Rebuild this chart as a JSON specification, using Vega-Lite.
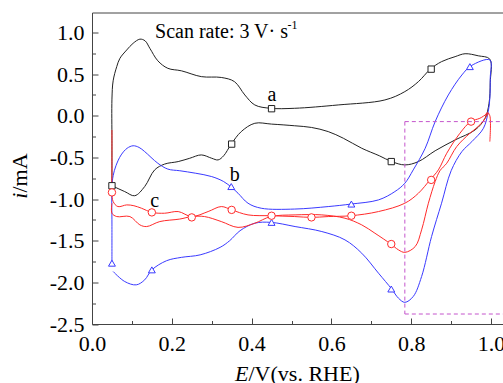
{
  "$schema": "https://vega.github.io/schema/vega-lite/v6.json",
  "width": 411,
  "height": 311.5,
  "autosize": "none",
  "padding": {"left": 92, "top": 12.5, "right": 0, "bottom": 59},
  "background": "white",
  "config": {
    "view": {"stroke": null},
    "axis": {
      "labelFont": "Liberation Serif",
      "titleFont": "Liberation Serif",
      "labelFontSize": 22,
      "titleFontSize": 22,
      "titleFontWeight": "normal",
      "labelColor": "#000",
      "titleColor": "#000",
      "domainColor": "#444",
      "tickColor": "#444",
      "domainWidth": 1,
      "tickWidth": 1,
      "grid": false,
      "labelFlush": false,
      "labelOverlap": false
    }
  },
  "datasets": {
    "curves": [
      {"s":"a","g":"a","k":0,"E":0.05,"i":-0.84},
      {"s":"a","g":"a","k":1,"E":0.05,"i":-0.3},
      {"s":"a","g":"a","k":2,"E":0.05,"i":0.2},
      {"s":"a","g":"a","k":3,"E":0.053,"i":0.42},
      {"s":"a","g":"a","k":4,"E":0.062,"i":0.59},
      {"s":"a","g":"a","k":5,"E":0.07,"i":0.69},
      {"s":"a","g":"a","k":6,"E":0.087,"i":0.79},
      {"s":"a","g":"a","k":7,"E":0.103,"i":0.87},
      {"s":"a","g":"a","k":8,"E":0.12,"i":0.92},
      {"s":"a","g":"a","k":9,"E":0.133,"i":0.9},
      {"s":"a","g":"a","k":10,"E":0.145,"i":0.81},
      {"s":"a","g":"a","k":11,"E":0.165,"i":0.66},
      {"s":"a","g":"a","k":12,"E":0.19,"i":0.57},
      {"s":"a","g":"a","k":13,"E":0.224,"i":0.54},
      {"s":"a","g":"a","k":14,"E":0.274,"i":0.47},
      {"s":"a","g":"a","k":15,"E":0.324,"i":0.46},
      {"s":"a","g":"a","k":16,"E":0.357,"i":0.41},
      {"s":"a","g":"a","k":17,"E":0.383,"i":0.25},
      {"s":"a","g":"a","k":18,"E":0.408,"i":0.13},
      {"s":"a","g":"a","k":19,"E":0.447,"i":0.09},
      {"s":"a","g":"a","k":20,"E":0.508,"i":0.09},
      {"s":"a","g":"a","k":21,"E":0.617,"i":0.13},
      {"s":"a","g":"a","k":22,"E":0.734,"i":0.19},
      {"s":"a","g":"a","k":23,"E":0.784,"i":0.29},
      {"s":"a","g":"a","k":24,"E":0.818,"i":0.41},
      {"s":"a","g":"a","k":25,"E":0.848,"i":0.56},
      {"s":"a","g":"a","k":26,"E":0.876,"i":0.65},
      {"s":"a","g":"a","k":27,"E":0.91,"i":0.71},
      {"s":"a","g":"a","k":28,"E":0.935,"i":0.745},
      {"s":"a","g":"a","k":29,"E":0.968,"i":0.72},
      {"s":"a","g":"a","k":30,"E":0.997,"i":0.68},
      {"s":"a","g":"a","k":31,"E":0.998,"i":0.4},
      {"s":"a","g":"a","k":32,"E":0.995,"i":0.15},
      {"s":"a","g":"a","k":33,"E":0.985,"i":-0.03},
      {"s":"a","g":"a","k":34,"E":0.96,"i":-0.17},
      {"s":"a","g":"a","k":35,"E":0.91,"i":-0.29},
      {"s":"a","g":"a","k":36,"E":0.86,"i":-0.42},
      {"s":"a","g":"a","k":37,"E":0.818,"i":-0.55},
      {"s":"a","g":"a","k":38,"E":0.784,"i":-0.59},
      {"s":"a","g":"a","k":39,"E":0.751,"i":-0.55},
      {"s":"a","g":"a","k":40,"E":0.72,"i":-0.48},
      {"s":"a","g":"a","k":41,"E":0.676,"i":-0.39},
      {"s":"a","g":"a","k":42,"E":0.63,"i":-0.27},
      {"s":"a","g":"a","k":43,"E":0.592,"i":-0.19},
      {"s":"a","g":"a","k":44,"E":0.55,"i":-0.14},
      {"s":"a","g":"a","k":45,"E":0.508,"i":-0.12},
      {"s":"a","g":"a","k":46,"E":0.45,"i":-0.1},
      {"s":"a","g":"a","k":47,"E":0.408,"i":-0.09},
      {"s":"a","g":"a","k":48,"E":0.374,"i":-0.19},
      {"s":"a","g":"a","k":49,"E":0.349,"i":-0.34},
      {"s":"a","g":"a","k":50,"E":0.33,"i":-0.48},
      {"s":"a","g":"a","k":51,"E":0.316,"i":-0.53},
      {"s":"a","g":"a","k":52,"E":0.3,"i":-0.51},
      {"s":"a","g":"a","k":53,"E":0.274,"i":-0.47},
      {"s":"a","g":"a","k":54,"E":0.245,"i":-0.51},
      {"s":"a","g":"a","k":55,"E":0.216,"i":-0.55},
      {"s":"a","g":"a","k":56,"E":0.182,"i":-0.58},
      {"s":"a","g":"a","k":57,"E":0.157,"i":-0.65},
      {"s":"a","g":"a","k":58,"E":0.132,"i":-0.85},
      {"s":"a","g":"a","k":59,"E":0.107,"i":-0.96},
      {"s":"a","g":"a","k":60,"E":0.082,"i":-0.91},
      {"s":"a","g":"a","k":61,"E":0.05,"i":-0.84},

      {"s":"b","g":"b","k":0,"E":0.05,"i":-1.77},
      {"s":"b","g":"b","k":1,"E":0.05,"i":-1.3},
      {"s":"b","g":"b","k":2,"E":0.05,"i":-0.85},
      {"s":"b","g":"b","k":3,"E":0.053,"i":-0.72},
      {"s":"b","g":"b","k":4,"E":0.06,"i":-0.6},
      {"s":"b","g":"b","k":5,"E":0.073,"i":-0.47},
      {"s":"b","g":"b","k":6,"E":0.088,"i":-0.39},
      {"s":"b","g":"b","k":7,"E":0.103,"i":-0.36},
      {"s":"b","g":"b","k":8,"E":0.118,"i":-0.38},
      {"s":"b","g":"b","k":9,"E":0.132,"i":-0.43},
      {"s":"b","g":"b","k":10,"E":0.165,"i":-0.57},
      {"s":"b","g":"b","k":11,"E":0.19,"i":-0.64},
      {"s":"b","g":"b","k":12,"E":0.22,"i":-0.66},
      {"s":"b","g":"b","k":13,"E":0.26,"i":-0.69},
      {"s":"b","g":"b","k":14,"E":0.3,"i":-0.73},
      {"s":"b","g":"b","k":15,"E":0.33,"i":-0.79},
      {"s":"b","g":"b","k":16,"E":0.35,"i":-0.86},
      {"s":"b","g":"b","k":17,"E":0.366,"i":-0.93},
      {"s":"b","g":"b","k":18,"E":0.391,"i":-1.05},
      {"s":"b","g":"b","k":19,"E":0.424,"i":-1.11},
      {"s":"b","g":"b","k":20,"E":0.508,"i":-1.12},
      {"s":"b","g":"b","k":21,"E":0.592,"i":-1.09},
      {"s":"b","g":"b","k":22,"E":0.649,"i":-1.06},
      {"s":"b","g":"b","k":23,"E":0.718,"i":-1.01},
      {"s":"b","g":"b","k":24,"E":0.759,"i":-0.91},
      {"s":"b","g":"b","k":25,"E":0.784,"i":-0.81},
      {"s":"b","g":"b","k":26,"E":0.805,"i":-0.65},
      {"s":"b","g":"b","k":27,"E":0.835,"i":-0.39},
      {"s":"b","g":"b","k":28,"E":0.86,"i":-0.07},
      {"s":"b","g":"b","k":29,"E":0.893,"i":0.25},
      {"s":"b","g":"b","k":30,"E":0.927,"i":0.49},
      {"s":"b","g":"b","k":31,"E":0.95,"i":0.6},
      {"s":"b","g":"b","k":32,"E":0.997,"i":0.67},
      {"s":"b","g":"b","k":33,"E":0.998,"i":0.45},
      {"s":"b","g":"b","k":34,"E":0.997,"i":0.21},
      {"s":"b","g":"b","k":35,"E":0.993,"i":0.05},
      {"s":"b","g":"b","k":36,"E":0.981,"i":-0.15},
      {"s":"b","g":"b","k":37,"E":0.952,"i":-0.31},
      {"s":"b","g":"b","k":38,"E":0.927,"i":-0.43},
      {"s":"b","g":"b","k":39,"E":0.9,"i":-0.66},
      {"s":"b","g":"b","k":40,"E":0.876,"i":-1.05},
      {"s":"b","g":"b","k":41,"E":0.851,"i":-1.45},
      {"s":"b","g":"b","k":42,"E":0.826,"i":-1.93},
      {"s":"b","g":"b","k":43,"E":0.805,"i":-2.17},
      {"s":"b","g":"b","k":44,"E":0.784,"i":-2.24},
      {"s":"b","g":"b","k":45,"E":0.768,"i":-2.19},
      {"s":"b","g":"b","k":46,"E":0.751,"i":-2.08},
      {"s":"b","g":"b","k":47,"E":0.718,"i":-1.89},
      {"s":"b","g":"b","k":48,"E":0.676,"i":-1.65},
      {"s":"b","g":"b","k":49,"E":0.634,"i":-1.49},
      {"s":"b","g":"b","k":50,"E":0.576,"i":-1.39},
      {"s":"b","g":"b","k":51,"E":0.509,"i":-1.33},
      {"s":"b","g":"b","k":52,"E":0.449,"i":-1.28},
      {"s":"b","g":"b","k":53,"E":0.408,"i":-1.29},
      {"s":"b","g":"b","k":54,"E":0.371,"i":-1.38},
      {"s":"b","g":"b","k":55,"E":0.345,"i":-1.5},
      {"s":"b","g":"b","k":56,"E":0.321,"i":-1.58},
      {"s":"b","g":"b","k":57,"E":0.271,"i":-1.67},
      {"s":"b","g":"b","k":58,"E":0.224,"i":-1.7},
      {"s":"b","g":"b","k":59,"E":0.187,"i":-1.74},
      {"s":"b","g":"b","k":60,"E":0.15,"i":-1.85},
      {"s":"b","g":"b","k":61,"E":0.132,"i":-1.97},
      {"s":"b","g":"b","k":62,"E":0.111,"i":-2.03},
      {"s":"b","g":"b","k":63,"E":0.082,"i":-1.99},
      {"s":"b","g":"b","k":64,"E":0.053,"i":-1.87},

      {"s":"c","g":"c","k":0,"E":0.05,"i":-0.17},
      {"s":"c","g":"c","k":1,"E":0.05,"i":-0.6},
      {"s":"c","g":"c","k":2,"E":0.05,"i":-0.92},
      {"s":"c","g":"c","k":3,"E":0.053,"i":-1.03},
      {"s":"c","g":"c","k":4,"E":0.065,"i":-1.09},
      {"s":"c","g":"c","k":5,"E":0.087,"i":-1.07},
      {"s":"c","g":"c","k":6,"E":0.105,"i":-1.08},
      {"s":"c","g":"c","k":7,"E":0.124,"i":-1.11},
      {"s":"c","g":"c","k":8,"E":0.15,"i":-1.16},
      {"s":"c","g":"c","k":9,"E":0.182,"i":-1.17},
      {"s":"c","g":"c","k":10,"E":0.216,"i":-1.15},
      {"s":"c","g":"c","k":11,"E":0.25,"i":-1.21},
      {"s":"c","g":"c","k":12,"E":0.291,"i":-1.15},
      {"s":"c","g":"c","k":13,"E":0.324,"i":-1.09},
      {"s":"c","g":"c","k":14,"E":0.35,"i":-1.13},
      {"s":"c","g":"c","k":15,"E":0.391,"i":-1.19},
      {"s":"c","g":"c","k":16,"E":0.448,"i":-1.2},
      {"s":"c","g":"c","k":17,"E":0.508,"i":-1.21},
      {"s":"c","g":"c","k":18,"E":0.55,"i":-1.22},
      {"s":"c","g":"c","k":19,"E":0.592,"i":-1.21},
      {"s":"c","g":"c","k":20,"E":0.649,"i":-1.2},
      {"s":"c","g":"c","k":21,"E":0.718,"i":-1.15},
      {"s":"c","g":"c","k":22,"E":0.784,"i":-1.05},
      {"s":"c","g":"c","k":23,"E":0.818,"i":-0.93},
      {"s":"c","g":"c","k":24,"E":0.847,"i":-0.77},
      {"s":"c","g":"c","k":25,"E":0.868,"i":-0.65},
      {"s":"c","g":"c","k":26,"E":0.889,"i":-0.45},
      {"s":"c","g":"c","k":27,"E":0.922,"i":-0.21},
      {"s":"c","g":"c","k":28,"E":0.949,"i":-0.07},
      {"s":"c","g":"c","k":29,"E":0.972,"i":-0.03},
      {"s":"c","g":"c","k":30,"E":0.989,"i":0.02},
      {"s":"c","g":"c","k":31,"E":0.993,"i":0.03},
      {"s":"c","g":"c","k":32,"E":0.972,"i":-0.11},
      {"s":"c","g":"c","k":33,"E":0.947,"i":-0.21},
      {"s":"c","g":"c","k":34,"E":0.914,"i":-0.37},
      {"s":"c","g":"c","k":35,"E":0.889,"i":-0.57},
      {"s":"c","g":"c","k":36,"E":0.872,"i":-0.66},
      {"s":"c","g":"c","k":37,"E":0.86,"i":-0.79},
      {"s":"c","g":"c","k":38,"E":0.843,"i":-1.05},
      {"s":"c","g":"c","k":39,"E":0.826,"i":-1.37},
      {"s":"c","g":"c","k":40,"E":0.81,"i":-1.57},
      {"s":"c","g":"c","k":41,"E":0.784,"i":-1.64},
      {"s":"c","g":"c","k":42,"E":0.768,"i":-1.61},
      {"s":"c","g":"c","k":43,"E":0.749,"i":-1.54},
      {"s":"c","g":"c","k":44,"E":0.709,"i":-1.41},
      {"s":"c","g":"c","k":45,"E":0.676,"i":-1.31},
      {"s":"c","g":"c","k":46,"E":0.634,"i":-1.23},
      {"s":"c","g":"c","k":47,"E":0.576,"i":-1.19},
      {"s":"c","g":"c","k":48,"E":0.509,"i":-1.19},
      {"s":"c","g":"c","k":49,"E":0.448,"i":-1.21},
      {"s":"c","g":"c","k":50,"E":0.408,"i":-1.29},
      {"s":"c","g":"c","k":51,"E":0.366,"i":-1.34},
      {"s":"c","g":"c","k":52,"E":0.324,"i":-1.27},
      {"s":"c","g":"c","k":53,"E":0.282,"i":-1.21},
      {"s":"c","g":"c","k":54,"E":0.25,"i":-1.21},
      {"s":"c","g":"c","k":55,"E":0.22,"i":-1.24},
      {"s":"c","g":"c","k":56,"E":0.17,"i":-1.27},
      {"s":"c","g":"c","k":57,"E":0.137,"i":-1.33},
      {"s":"c","g":"c","k":58,"E":0.12,"i":-1.31},
      {"s":"c","g":"c","k":59,"E":0.095,"i":-1.21},
      {"s":"c","g":"c","k":60,"E":0.062,"i":-1.21},
      {"s":"c","g":"c","k":61,"E":0.05,"i":-1.17},
      {"s":"c","g":"c","k":62,"E":0.05,"i":-1.05},

      {"s":"c","g":"c2","k":0,"E":0.985,"i":0.0},
      {"s":"c","g":"c2","k":1,"E":0.991,"i":0.04},
      {"s":"c","g":"c2","k":2,"E":0.997,"i":0.0},
      {"s":"c","g":"c2","k":3,"E":0.997,"i":-0.31}
    ],
    "markers": [
      {"s":"a","E":0.05,"i":-0.84},
      {"s":"a","E":0.35,"i":-0.34},
      {"s":"a","E":0.45,"i":0.085},
      {"s":"a","E":0.75,"i":-0.55},
      {"s":"a","E":0.85,"i":0.56},
      {"s":"b","E":0.05,"i":-1.77},
      {"s":"b","E":0.15,"i":-1.85},
      {"s":"b","E":0.349,"i":-0.85},
      {"s":"b","E":0.45,"i":-1.28},
      {"s":"b","E":0.65,"i":-1.06},
      {"s":"b","E":0.75,"i":-2.08},
      {"s":"b","E":0.947,"i":0.59},
      {"s":"c","E":0.05,"i":-0.92},
      {"s":"c","E":0.15,"i":-1.16},
      {"s":"c","E":0.25,"i":-1.22},
      {"s":"c","E":0.35,"i":-1.13},
      {"s":"c","E":0.45,"i":-1.2},
      {"s":"c","E":0.55,"i":-1.22},
      {"s":"c","E":0.65,"i":-1.2},
      {"s":"c","E":0.75,"i":-1.54},
      {"s":"c","E":0.85,"i":-0.77},
      {"s":"c","E":0.95,"i":-0.07}
    ]
  },
  "layer": [
    {
      "data": {"name": "curves"},
      "mark": {"type": "line", "interpolate": "catmull-rom", "strokeWidth": 1},
      "encoding": {
        "x": {
          "field": "E", "type": "quantitative",
          "scale": {"domain": [0, 1.03], "nice": false, "zero": false},
          "axis": {
            "orient": "bottom",
            "values": [0, 0.2, 0.4, 0.6, 0.8, 1.0],
            "format": ".1f",
            "tickSize": -6,
            "labelPadding": 15,
            "title": "/V(vs. RHE)",
            "titleAlign": "left",
            "titleAnchor": null,
            "titleX": 156,
            "titleY": 56,
            "titleBaseline": "alphabetic"
          }
        },
        "y": {
          "field": "i", "type": "quantitative",
          "scale": {"domain": [-2.5, 1.24], "nice": false, "zero": false},
          "axis": {
            "orient": "left",
            "values": [-2.5, -2, -1.5, -1, -0.5, 0, 0.5, 1],
            "labelExpr": "replace(format(datum.value, '.1f'), '\u2212', '-')",
            "tickSize": -6,
            "labelPadding": 14,
            "labelBaseline": "middle",
            "title": "/mA",
            "titleAlign": "left",
            "titleAnchor": null,
            "titleAngle": -90,
            "titleX": -73,
            "titleY": 179.5,
            "titleBaseline": "middle"
          }
        },
        "color": {
          "field": "s", "type": "nominal",
          "scale": {"domain": ["a", "b", "c"], "range": ["#222222", "#3a3aff", "#ff2a2a"]},
          "legend": null
        },
        "detail": {"field": "g", "type": "nominal"},
        "order": {"field": "k", "type": "quantitative"}
      }
    },
    {
      "data": {"name": "markers"},
      "mark": {"type": "point", "filled": true, "fill": "white", "strokeWidth": 1, "opacity": 1},
      "encoding": {
        "x": {
          "field": "E", "type": "quantitative",
          "scale": {"domain": [0, 1.03], "nice": false, "zero": false},
          "axis": {
            "orient": "bottom",
            "values": [0.1, 0.3, 0.5, 0.7, 0.9],
            "tickSize": -3.5,
            "labels": false,
            "domain": false,
            "title": "E",
            "titleFontStyle": "italic",
            "titleAlign": "right",
            "titleAnchor": null,
            "titleX": 156,
            "titleY": 56,
            "titleBaseline": "alphabetic"
          }
        },
        "y": {
          "field": "i", "type": "quantitative",
          "scale": {"domain": [-2.5, 1.24], "nice": false, "zero": false},
          "axis": {
            "orient": "left",
            "values": [-2.25, -1.75, -1.25, -0.75, -0.25, 0.25, 0.75],
            "tickSize": -3.5,
            "labels": false,
            "domain": false,
            "title": "i",
            "titleFontStyle": "italic",
            "titleAlign": "right",
            "titleAnchor": null,
            "titleAngle": -90,
            "titleX": -73,
            "titleY": 179.5,
            "titleBaseline": "middle"
          }
        },
        "stroke": {
          "field": "s", "type": "nominal",
          "scale": {"domain": ["a", "b", "c"], "range": ["#222222", "#3a3aff", "#ff2a2a"]},
          "legend": null
        },
        "shape": {
          "field": "s", "type": "nominal",
          "scale": {"domain": ["a", "b", "c"], "range": ["square", "triangle-up", "circle"]},
          "legend": null
        },
        "size": {
          "field": "s", "type": "nominal",
          "scale": {"domain": ["a", "b", "c"], "range": [40, 55, 50]},
          "legend": null
        }
      }
    },
    {
      "data": {
        "values": [
          {"E": 0.784, "E2": 0.784, "i": -0.07, "i2": -2.38},
          {"E": 0.784, "E2": 1.03, "i": -0.07, "i2": -0.07},
          {"E": 0.784, "E2": 1.03, "i": -2.38, "i2": -2.38}
        ]
      },
      "mark": {"type": "rule", "color": "#c455cc", "strokeWidth": 1, "strokeDash": [4, 3]},
      "encoding": {
        "x": {
          "field": "E", "type": "quantitative",
          "scale": {"domain": [0, 1.03], "nice": false, "zero": false},
          "axis": {"orient": "top", "ticks": false, "labels": false, "domain": true, "title": null}
        },
        "x2": {"field": "E2"},
        "y": {
          "field": "i", "type": "quantitative",
          "scale": {"domain": [-2.5, 1.24], "nice": false, "zero": false},
          "axis": null
        },
        "y2": {"field": "i2"}
      }
    },
    {
      "data": {"values": [{"t": "Scan rate: 3 V\u00b7 s", "E": 0.158, "i": 0.936}]},
      "mark": {"type": "text", "font": "Liberation Serif", "fontSize": 20, "align": "left", "baseline": "alphabetic", "color": "#000"},
      "encoding": {
        "x": {"field": "E", "type": "quantitative", "scale": {"domain": [0, 1.03], "nice": false, "zero": false}, "axis": null},
        "y": {"field": "i", "type": "quantitative", "scale": {"domain": [-2.5, 1.24], "nice": false, "zero": false}, "axis": null},
        "text": {"field": "t"}
      }
    },
    {
      "data": {"values": [{"t": "-1", "E": 0.49, "i": 1.04}]},
      "mark": {"type": "text", "font": "Liberation Serif", "fontSize": 12, "align": "left", "baseline": "alphabetic", "color": "#000"},
      "encoding": {
        "x": {"field": "E", "type": "quantitative", "scale": {"domain": [0, 1.03], "nice": false, "zero": false}, "axis": null},
        "y": {"field": "i", "type": "quantitative", "scale": {"domain": [-2.5, 1.24], "nice": false, "zero": false}, "axis": null},
        "text": {"field": "t"}
      }
    },
    {
      "data": {
        "values": [
          {"t": "a", "E": 0.451, "i": 0.18},
          {"t": "b", "E": 0.358, "i": -0.78},
          {"t": "c", "E": 0.157, "i": -1.09}
        ]
      },
      "mark": {"type": "text", "font": "Liberation Serif", "fontSize": 20, "align": "center", "baseline": "alphabetic", "color": "#000"},
      "encoding": {
        "x": {"field": "E", "type": "quantitative", "scale": {"domain": [0, 1.03], "nice": false, "zero": false}, "axis": null},
        "y": {"field": "i", "type": "quantitative", "scale": {"domain": [-2.5, 1.24], "nice": false, "zero": false}, "axis": null},
        "text": {"field": "t"}
      }
    }
  ],
  "resolve": {"axis": {"x": "independent", "y": "independent"}}
}
